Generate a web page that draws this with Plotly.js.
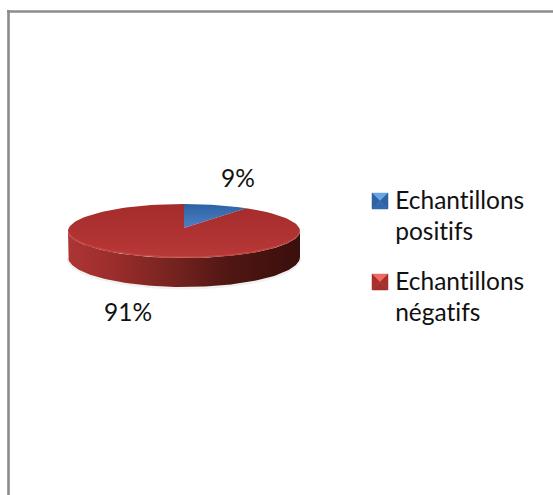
<!DOCTYPE html>
<html>
<head>
<meta charset="utf-8">
<script src="https://cdn.plot.ly/plotly-3.0.1.min.js"></script>
<style>
html,body{margin:0;padding:0;background:#fff}
#chart{width:553px;height:495px}
#chart text{font-variant-ligatures:none;font-feature-settings:"liga" 0}
</style>
</head>
<body>
<div id="chart"></div>
<script>
// Sample results, in percent
const categories = ["Echantillons positifs", "Echantillons négatifs"];
const shares = [9, 91];
const legendLines = [["Echantillons", "positifs"], ["Echantillons", "négatifs"]];

// Tilted disc geometry on a pixel-scaled axis pair
const CX = 184, CY = 231, RX = 116, RY = 27, DEPTH = 26, APEX_Y = 228, FRONT_BULGE = 3;
const STEPS = 120;

// Point on the rim; angle in degrees, clockwise from twelve o'clock
function rim(deg, dy, ry) {
  const a = deg * Math.PI / 180;
  return [CX + RX * Math.sin(a), CY - (ry || RY) * Math.cos(a) + (dy || 0)];
}
function arc(from, to, dy, ry) {
  const xs = [], ys = [];
  for (let i = 0; i <= STEPS; i++) {
    const p = rim(from + (to - from) * i / STEPS, dy, ry);
    xs.push(p[0]); ys.push(p[1]);
  }
  return [xs, ys];
}

const faceGrad = [
  { type: "vertical", colorscale: [[0, "#4f81c4"], [1, "#2c62a4"]] },
  { type: "vertical", colorscale: [[0, "#b83836"], [0.5, "#ae3231"], [1, "#a32c2b"]] }
];

const traces = [];

// Soft halo under the side wall
const halo = arc(90, 270, DEPTH + 1, RY + FRONT_BULGE);
traces.push({ x: halo[0], y: halo[1], mode: "lines", hoverinfo: "skip", showlegend: false,
  line: { color: "rgba(120,120,120,0.10)", width: 3 } });

// Side wall: front half of the rim
const wallTop = arc(90, 270, 0), wallBottom = arc(270, 90, DEPTH, RY + FRONT_BULGE);
traces.push({
  x: wallTop[0].concat(wallBottom[0]), y: wallTop[1].concat(wallBottom[1]),
  mode: "lines", fill: "toself", line: { width: 0, color: "rgba(0,0,0,0)" },
  fillgradient: { type: "horizontal", colorscale: [
    [0, "#ad3534"], [0.2, "#9a2d2b"], [0.45, "#762320"], [0.7, "#4f1613"], [1, "#3a0f0c"]
  ] },
  hoverinfo: "skip", showlegend: false
});

// Top face, one wedge per category, sized from its share
let start = 0;
const total = shares.reduce((s, v) => s + v, 0);
shares.forEach((v, i) => {
  const end = start + 360 * v / total;
  const a = arc(start, end, 0);
  traces.push({
    x: [CX].concat(a[0], [CX]), y: [APEX_Y].concat(a[1], [APEX_Y]),
    mode: "lines", fill: "toself", line: { width: 0, color: "rgba(0,0,0,0)" },
    fillgradient: faceGrad[i], name: categories[i], showlegend: false,
    hoverinfo: "name"
  });
  start = end;
});

// Bevel highlight along the front edge of the top face
const bevel = arc(94, 266, -1);
traces.push({ x: bevel[0], y: bevel[1], mode: "lines", hoverinfo: "skip", showlegend: false,
  line: { color: "rgba(205,85,80,0.6)", width: 1.2 } });

// Legend keys: four bevelled triangles around the middle of a small square
const keyShades = [
  ["#69a4e6", "#2e62a3", "#3069ad", "#2e62a3"],
  ["#ee6a64", "#a82f2c", "#a32e2c", "#a82f2c"]
];
const keyX = 372, keyS = 16, keyY = [193, 274];
keyY.forEach((ky, k) => {
  const c = [keyX + keyS / 2, ky + keyS / 2];
  const corners = [[keyX, ky], [keyX + keyS, ky], [keyX + keyS, ky + keyS], [keyX, ky + keyS]];
  corners.forEach((p, j) => {
    const q = corners[(j + 1) % 4];
    traces.push({
      x: [p[0], q[0], c[0], p[0]], y: [p[1], q[1], c[1], p[1]],
      mode: "lines", fill: "toself", line: { width: 0.5, color: keyShades[k][j] },
      fillcolor: keyShades[k][j], hoverinfo: "skip", showlegend: false
    });
  });
});

// Value and legend text
const FONT = "Lato, sans-serif";
const textNote = (x, y, text, anchor) => ({
  x, y, text, xref: "x", yref: "y", showarrow: false,
  xanchor: anchor, yanchor: "middle",
  font: { family: FONT, size: 24.5, color: "#111" }
});
const annotations = [
  textNote(238, 177.5, shares[0] + "%", "center"),
  textNote(128, 311.5, shares[1] + "%", "center")
];
const legendRows = [[199.5, 230.5], [280.5, 311.5]];
legendLines.forEach((lines, k) => lines.forEach((t, j) => {
  annotations.push(textNote(393, legendRows[k][j], t, "left"));
}));

Plotly.newPlot("chart", traces, {
  width: 553, height: 495,
  margin: { l: 0, r: 0, t: 0, b: 0 },
  paper_bgcolor: "#fff", plot_bgcolor: "#fff",
  showlegend: false,
  xaxis: { range: [0, 553], visible: false, fixedrange: true },
  yaxis: { range: [495, 0], visible: false, fixedrange: true },
  annotations,
  // Outer frame: only the top and left sides reach into the view
  shapes: [
    { type: "line", xref: "x", yref: "y", x0: 7, x1: 553, y0: 11.5, y1: 11.5, line: { color: "#8c8c8c", width: 2.6 } },
    { type: "line", xref: "x", yref: "y", x0: 8.5, x1: 8.5, y0: 10, y1: 495, line: { color: "#8c8c8c", width: 2.6 } }
  ]
}, { displayModeBar: false });
</script>
</body>
</html>
